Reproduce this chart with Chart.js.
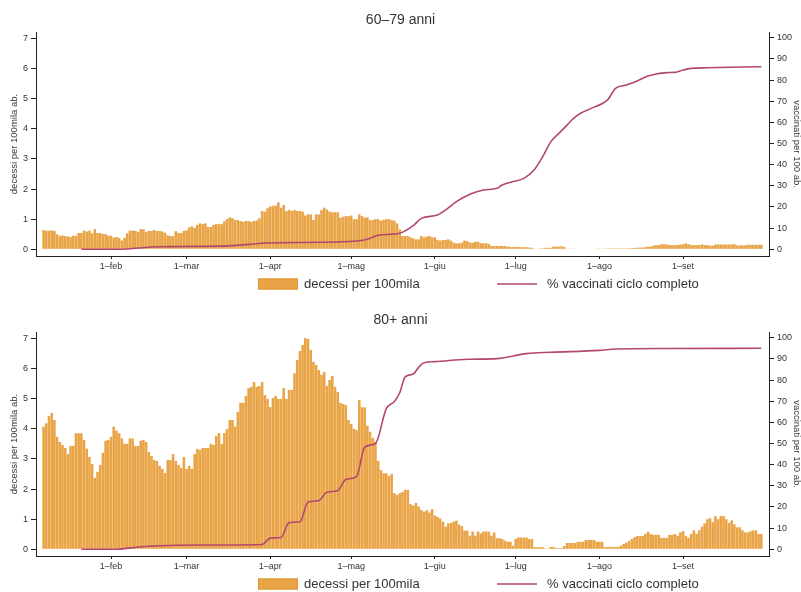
<!DOCTYPE html>
<html><head><meta charset="utf-8">
<script src="https://cdn.jsdelivr.net/npm/chart.js@4"></script>
<style>html,body{margin:0;padding:0;background:#fff}canvas{display:block}</style>
</head><body>
<canvas id="c1" width="801" height="300"></canvas>
<canvas id="c2" width="801" height="292"></canvas>
<script>
// day numbers counted from 1 January 2021 (0 = 1 Jan)
const firstDay = 6; // first bar: 7 Jan
const monthDays = [31, 59, 90, 120, 151, 181, 212, 243];
const monthLabels = ['1–feb', '1–mar', '1–apr', '1–mag', '1–giu', '1–lug', '1–ago', '1–set'];
const leftTicks = [0, 1, 2, 3, 4, 5, 6, 7];
const rightTicks = [0, 10, 20, 30, 40, 50, 60, 70, 80, 90, 100];
const titles = ['60–79 anni', '80+ anni'];
const seriesLabels = ['decessi per 100mila', '% vaccinati ciclo completo'];
const axisTitles = ['decessi per 100mila ab.', 'vaccinati per 100 ab.'];

const deaths6079 = [
  .64,.62,.62,.63,.61,.50,.44,.46,.44,.43,
  .41,.45,.45,.54,.54,.62,.59,.62,.53,.67,
  .54,.54,.51,.51,.45,.45,.39,.41,.38,.29,
  .38,.53,.62,.62,.61,.58,.67,.67,.58,.61,
  .61,.64,.61,.61,.59,.55,.46,.44,.44,.60,
  .54,.54,.61,.63,.73,.76,.71,.81,.86,.84,
  .86,.74,.74,.81,.84,.83,.84,.93,1.0,1.06,
  1.03,.97,.97,.94,.91,.94,.94,.91,.94,.96,
  1.03,1.27,1.25,1.36,1.42,1.44,1.45,1.56,1.38,1.47,
  1.27,1.3,1.27,1.3,1.27,1.27,1.25,1.12,1.16,1.16,
  .97,1.16,1.16,1.3,1.38,1.32,1.25,1.23,1.23,1.23,
  1.05,1.08,1.1,1.1,1.12,1.0,1.0,1.16,1.1,1.05,
  1.06,.97,.97,1.0,1.0,.95,.98,1.0,1.0,.97,
  .95,.86,.66,.44,.44,.44,.4,.36,.33,.33,
  .44,.4,.42,.44,.4,.4,.31,.29,.31,.31,
  .33,.29,.22,.2,.2,.22,.29,.27,.22,.22,
  .25,.25,.2,.2,.2,.18,.11,.11,.11,.11,
  .11,.11,.09,.08,.08,.08,.08,.07,.07,.07,
  .06,.05,.02,0,.03,.03,.05,.05,.05,.09,
  .09,.09,.1,.07,.02,.01,.01,null,null,null,
  null,null,null,null,null,.01,.01,.01,.01,.03,
  .03,.03,.03,.03,.03,.03,.03,.03,.04,.05,
  .05,.06,.06,.07,.09,.09,.12,.14,.14,.17,
  .17,.16,.14,.14,.14,.14,.16,.17,.2,.17,
  .14,.14,.14,.14,.16,.14,.14,.12,.12,.16,
  .16,.16,.16,.16,.16,.16,.17,.13,.13,.13,
  .13,.15,.15,.15,.15,.15,.15
];
const deaths80 = [
  4.07,4.18,4.42,4.52,4.29,3.73,3.56,3.46,3.36,3.16,
  3.43,3.43,3.85,3.85,3.85,3.63,3.34,3.06,2.83,2.37,
  2.57,2.80,3.2,3.6,3.63,3.73,4.07,3.94,3.85,3.68,
  3.5,3.5,3.68,3.68,3.43,3.43,3.6,3.63,3.56,3.23,
  3.1,2.96,2.93,2.77,2.67,2.53,2.96,2.96,3.16,2.93,
  2.8,2.7,3.06,2.67,2.77,2.67,3.16,3.33,3.3,3.36,
  3.36,3.36,3.5,3.46,3.76,3.86,3.5,3.86,3.99,4.29,
  4.29,4.07,4.56,4.86,4.86,5.09,5.35,5.39,5.55,5.39,
  5.42,5.55,5.12,4.99,4.72,5.02,5.09,4.99,4.99,5.35,
  4.99,5.29,5.29,5.84,6.28,6.58,6.78,7.01,6.98,6.61,
  6.22,6.12,5.95,5.79,5.88,5.42,5.62,5.75,5.39,5.22,
  4.86,4.82,4.79,4.29,4.16,4.0,3.96,4.95,4.71,4.71,
  4.1,3.9,3.7,3.57,2.93,2.63,2.52,2.52,2.43,2.5,
  1.86,1.8,1.86,1.9,1.97,1.97,1.5,1.45,1.54,1.42,
  1.3,1.25,1.3,1.22,1.33,1.12,1.08,1.02,.92,.75,
  .86,.88,.92,.95,.82,.77,.62,.62,.45,.59,
  .45,.59,.53,.59,.59,.59,.45,.56,.37,.37,
  .34,.29,.25,.25,.12,.35,.39,.39,.39,.39,
  .34,.34,.07,.07,.07,.07,.03,.03,.08,.08,
  .04,.04,.04,.11,.21,.21,.21,.21,.25,.25,
  .25,.31,.31,.31,.31,.25,.25,.25,.07,.08,
  .08,.08,.08,.08,.12,.18,.22,.27,.34,.4,
  .44,.44,.44,.51,.58,.51,.48,.48,.48,.38,
  .38,.38,.48,.48,.51,.45,.56,.6,.45,.38,
  .51,.63,.51,.63,.75,.86,1.0,1.03,.9,1.1,
  1.0,1.1,1.1,1.0,.88,.96,.83,.73,.73,.63,
  .56,.56,.6,.63,.63,.51,.51
];
const vaxDays6079 = [20,34,40,49,74,84,88,108,125,127,130,138,143,146,152,155,159,164,169,174,176,180,184,188,191,194,197,200,202,205,209,215,218,222,226,230,233,237,240,243,246,252,272];
const vax6079     = [0,0,0.5,1.2,1.6,2.5,3.0,3.3,4.4,5.2,6.6,7.6,11.2,14.6,16.2,18.6,22.5,26,28,28.8,30.4,32,33.5,37.8,43.8,50.9,54.8,58.7,61.4,64.3,66.6,70.6,76.1,77.6,79.5,81.9,82.8,83.5,83.6,84.7,85.5,85.8,86.3];
const vaxDays80 = [20,33,42,49,64,87,90,94,97,101,104,108,111,115,118,122,125,129,133,136,138,140,143,145,147,151,163,174,185,194,212,218,237,272];
const vax80     = [0,0,1.2,1.7,2.0,2.3,5.3,5.6,12.6,13.0,22.3,23.0,27.0,27.7,33.0,34.3,48.3,50.0,66.5,69.8,74,81.5,82.8,86,88.2,88.7,89.8,90.1,92.5,93.1,94.0,94.7,94.9,95.0];

const FONT = '"Liberation Sans", Arial, sans-serif';
const TXT = '#333';
const AX = '#222';
const BAR = '#e8a446';
const BAR_EDGE = '#e0962f';
const LINE = '#b3476f';

Chart.defaults.font.family = FONT;
Chart.defaults.color = TXT;

const legendPlugin = {
  id: 'customLegend',
  afterDraw(chart) {
    const ctx = chart.ctx;
    const y = chart.chartArea.bottom + 28;
    const ds = chart.data.datasets;
    ctx.save();
    ctx.fillStyle = BAR;
    ctx.fillRect(258, y - 5.5, 40, 11);
    ctx.strokeStyle = BAR_EDGE; ctx.lineWidth = 1;
    ctx.strokeRect(258.5, y - 5, 39, 10);
    ctx.font = '13px ' + FONT;
    ctx.fillStyle = TXT;
    ctx.textBaseline = 'middle';
    ctx.fillText(ds[0].label, 304, y);
    ctx.strokeStyle = LINE; ctx.lineWidth = 1.5;
    ctx.beginPath(); ctx.moveTo(497, y); ctx.lineTo(537, y); ctx.stroke();
    ctx.fillText(ds[1].label, 547, y);
    ctx.restore();
  }
};

function makeChart(id, title, deaths, vaxDays, vax, padBottom) {
  const barData = deaths.map((v, i) => ({ x: firstDay + i, y: v }));
  const lineData = vaxDays.map((d, i) => ({ x: d, y: vax[i] }));
  return new Chart(document.getElementById(id), {
    data: {
      datasets: [
        { type: 'bar', label: seriesLabels[0], data: barData, yAxisID: 'y',
          backgroundColor: BAR, borderWidth: 0, barPercentage: 0.96, categoryPercentage: 1, order: 1 },
        { type: 'line', label: seriesLabels[1], data: lineData, yAxisID: 'y2',
          borderColor: LINE, borderWidth: 1.6, pointRadius: 0, fill: false,
          cubicInterpolationMode: 'monotone', order: 0 }
      ]
    },
    options: {
      responsive: false, animation: false,
      events: [],
      layout: { padding: { left: 0, right: 0, top: 0, bottom: padBottom } },
      plugins: {
        legend: { display: false },
        tooltip: { enabled: false },
        title: { display: true, text: title, color: TXT,
          font: { size: 14, weight: 'normal', lineHeight: 1.2 },
          padding: { top: 12, bottom: 3.2 } }
      },
      scales: {
        x: {
          type: 'linear', min: 3.19, max: 274.85, offset: false,
          afterBuildTicks: a => { a.ticks = monthDays.map(v => ({ value: v })); },
          afterFit: s => { s.height = 18; },
          ticks: { callback: v => { const k = monthDays.indexOf(v); return k >= 0 ? monthLabels[k] : ''; },
            autoSkip: false, maxRotation: 0, font: { size: 9 }, color: TXT, padding: 2 },
          grid: { display: true, offset: false, drawOnChartArea: false, drawTicks: true, tickLength: 3, color: AX, tickColor: AX },
          border: { display: true, color: AX, width: 1 }
        },
        y: {
          type: 'linear', position: 'left', min: -0.222, max: 7.21,
          afterBuildTicks: a => { a.ticks = leftTicks.map(v => ({ value: v })); },
          afterFit: s => { s.width = 36; },
          ticks: { font: { size: 9 }, color: TXT, padding: 3 },
          grid: { display: true, drawOnChartArea: false, tickLength: 5, color: AX, tickColor: AX },
          border: { display: true, color: AX, width: 1 },
          title: { display: true, text: axisTitles[0], color: TXT,
            font: { size: 9.5, lineHeight: 1 }, padding: { top: 10, bottom: 0 } }
        },
        y2: {
          type: 'linear', position: 'right', min: -3.17, max: 102.7,
          afterBuildTicks: a => { a.ticks = rightTicks.map(v => ({ value: v })); },
          afterFit: s => { s.width = 32; },
          ticks: { font: { size: 9 }, color: TXT, padding: 3 },
          grid: { display: true, drawOnChartArea: false, tickLength: 5, color: AX, tickColor: AX },
          border: { display: true, color: AX, width: 1 },
          title: { display: true, text: axisTitles[1], color: TXT,
            font: { size: 9.5, lineHeight: 1 }, padding: { top: 0, bottom: 0 } }
        }
      }
    },
    plugins: [legendPlugin]
  });
}

makeChart('c1', titles[0], deaths6079, vaxDays6079, vax6079, 26);
makeChart('c2', titles[1], deaths80, vaxDays80, vax80, 18);
</script>
</body></html>
